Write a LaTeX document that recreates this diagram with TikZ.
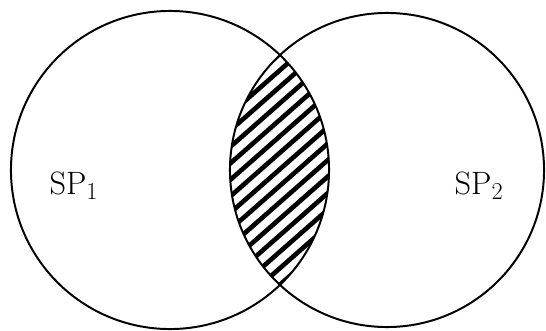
\documentclass[tikz,border=0pt]{standalone}
\usepackage{amsmath}
\usepackage{tikz}
\usetikzlibrary{positioning}

\begin{document}
\begin{tikzpicture}[
		x=0.025cm, y=0.025cm,
		% Style des deux ensembles
		setcircle/.style={
			circle,
			draw=black,
			line width=1.4pt,
			inner sep=0pt,
			minimum size=#1
		},
		% Style des hachures de l'intersection
		hatch/.style={
			line width=3.3pt,
			black
		},
		% Style des étiquettes
		setlabel/.style={
			font=\fontsize{23}{27}\selectfont,
			text=black,
			inner sep=0pt
		}
		]
		\useasboundingbox (0,0) rectangle (546,330);
		
		% --- LES DEUX ENSEMBLES ---
		\node[setcircle=7.95cm] (sp1) at (170,160) {};
		\node[setcircle=7.85cm] (sp2) at (387,160) {};
		
		% --- INTERSECTION HACHURÉE ---
		\begin{scope}
			\clip (sp1.center) circle (159);
			\clip (sp2.center) circle (157);
			\foreach \k in {-9,...,9}
			\draw[hatch] ([shift={(-150,16.5*\k-132)}]279,160) -- ([shift={(150,16.5*\k+132)}]279,160);
		\end{scope}
		
		% --- ÉTIQUETTES ---
		\node[setlabel] (l1) at (74,144) {SP$_1$};
		\node[setlabel] (l2) at (479,144) {SP$_2$};
		
	\end{tikzpicture}
\end{document}
